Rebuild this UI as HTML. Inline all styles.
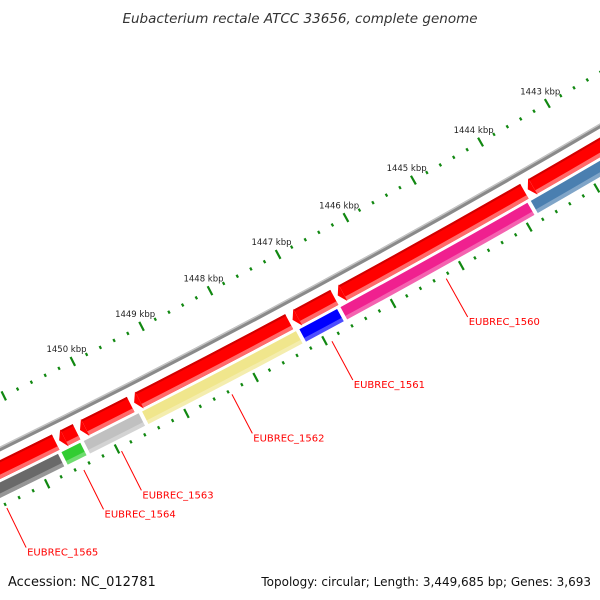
<!DOCTYPE html>
<html><head><meta charset="utf-8"><style>
html,body{margin:0;padding:0;background:#fff;}
svg{display:block;}
</style></head><body>
<svg id="map" width="600" height="600" viewBox="0 0 600 600" xmlns="http://www.w3.org/2000/svg">
<rect x="0" y="0" width="600" height="600" fill="#fff"/>
<g id="rings"></g>
<text x="300" y="23" text-anchor="middle" font-family="'DejaVu Sans','Liberation Sans',sans-serif" font-style="italic" font-size="13.5" fill="#333">Eubacterium rectale ATCC 33656, complete genome</text>
<text x="8" y="586" font-family="'DejaVu Sans','Liberation Sans',sans-serif" font-size="13" fill="#111">Accession: NC_012781</text>
<text x="591" y="586" text-anchor="end" font-family="'DejaVu Sans','Liberation Sans',sans-serif" font-size="12" fill="#111">Topology: circular; Length: 3,449,685 bp; Genes: 3,693</text>
</svg>
<script>
// data
const fwdStart = [1441.0, 1443.8, 1446.6, 1447.26, 1449.56, 1450.34, 1450.64];
const fwdEnd   = [1443.8, 1446.6, 1447.26, 1449.56, 1450.34, 1450.64, 1452.5];
const revStart = [1441.0, 1443.84, 1446.64, 1447.24, 1449.52, 1450.36, 1450.68];
const revEnd   = [1443.84, 1446.64, 1447.24, 1449.52, 1450.36, 1450.68, 1452.5];
const revColors = ['#4a7fb0', '#f0208f', '#0000ff', '#f0e68c', '#c0c0c0', '#32cd32', '#696969'];
const tickLabels = ['1443 kbp','1444 kbp','1445 kbp','1446 kbp','1447 kbp','1448 kbp','1449 kbp','1450 kbp'];
const tickLabelPos = [1443, 1444, 1445, 1446, 1447, 1448, 1449, 1450];
const geneNames = ['EUBREC_1560','EUBREC_1561','EUBREC_1562','EUBREC_1563','EUBREC_1564','EUBREC_1565'];
const genePos = [1445.25, 1446.92, 1448.37, 1449.96, 1450.5, 1451.6];

const CX = -3912, CY = -7534;
const R0 = 8890;
const NS = 'http://www.w3.org/2000/svg';
const g = document.getElementById('rings');
function ang(k){ return (59.72 + 0.5*(k-1443)) * Math.PI/180; }
function pt(r,k){ const a=ang(k); return [CX + r*Math.cos(a), CY + r*Math.sin(a)]; }
function f(p){ return p[0].toFixed(2)+' '+p[1].toFixed(2); }
function band(k1,k2,r1,r2){
  const a=pt(r1,k1), b=pt(r1,k2), c=pt(r2,k2), d=pt(r2,k1);
  return 'M'+f(a)+' A'+r1+' '+r1+' 0 0 1 '+f(b)+' L'+f(c)+' A'+r2+' '+r2+' 0 0 0 '+f(d)+' Z';
}
function mk(tag, attrs){ const e=document.createElementNS(NS,tag); for(const k in attrs) e.setAttribute(k,attrs[k]); g.appendChild(e); return e; }

// backbone
let bb = mk('path',{d:band(1440,1453,R0-2.2,R0+2.2), fill:'#8a8a8a'});


let bbh = mk('path',{d:band(1440,1453,R0-2.2,R0-0.8), fill:'#c4c4c4'});



// forward features
const gapK = 0.025, headK = 0.075;
const fr1 = R0+10, fr2 = R0+27;
for(let i=0;i<fwdStart.length;i++){
  const s = fwdStart[i]+gapK, e = fwdEnd[i]-gapK;
  const body = mk('path',{d:band(s,e-headK,fr1,fr2), fill:'#ff0000'});
  
  
  const hl = mk('path',{d:band(s,e-headK,fr2-4,fr2), fill:'#ff6a6a'});
  
  
  const dk = mk('path',{d:band(s,e-headK,fr1,fr1+2), fill:'#d00000'});
  
  
  const p1=pt(fr1-1,e-headK), p2=pt((fr1+fr2)/2,e), p3=pt(fr2+1,e-headK);
  const hd = mk('polygon',{points:f(p1)+' '+f(p2)+' '+f(p3), fill:'#ff0000'});
  
  
}

// reverse features
const rr1 = R0+30, rr2 = R0+44;
for(let i=0;i<revStart.length;i++){
  const s = revStart[i]+gapK, e = revEnd[i]-gapK;
  const body = mk('path',{d:band(s,e,rr1,rr2), fill:revColors[i]});
  
  
  const hl = mk('path',{d:band(s,e,rr2-4,rr2), fill:'rgba(255,255,255,0.3)'});
  
  
}

// ticks
function tickRow(rc, name){
  for(let t=14400; t<=14525; t+=2){
    const k = t/10;
    const major = (t%10===0);
    const h = major?5:1.6;
    const a = pt(rc-h,k), b = pt(rc+h,k);
    const ln = mk('line',{x1:a[0],y1:a[1],x2:b[0],y2:b[1],stroke:'#118811','stroke-width':2.2});
    
    
  }
}
tickRow(R0-46,'inner-ruler');
tickRow(R0+52,'outer-ruler');

// tick labels
for(let i=0;i<tickLabels.length;i++){
  const p = pt(R0-60, tickLabelPos[i]);
  const t = mk('text',{x:p[0].toFixed(1),y:(p[1]+3).toFixed(1),'text-anchor':'middle','font-family':"'DejaVu Sans','Liberation Sans',sans-serif",'font-size':'8.5',fill:'#222'});
  t.textContent = tickLabels[i];
  
  
}

// gene labels
for(let i=0;i<geneNames.length;i++){
  const a = pt(R0+56, genePos[i]);
  const b = pt(R0+100, genePos[i]);
  const ln = mk('line',{x1:a[0],y1:a[1],x2:b[0],y2:b[1],stroke:'#ff0000','stroke-width':1});
  
  
  const t = mk('text',{x:(b[0]+1).toFixed(1),y:(b[1]+8).toFixed(1),'font-family':"'DejaVu Sans','Liberation Sans',sans-serif",'font-size':'10',fill:'#ff0000'});
  t.textContent = geneNames[i];
  
  
}
</script>
</body></html>
